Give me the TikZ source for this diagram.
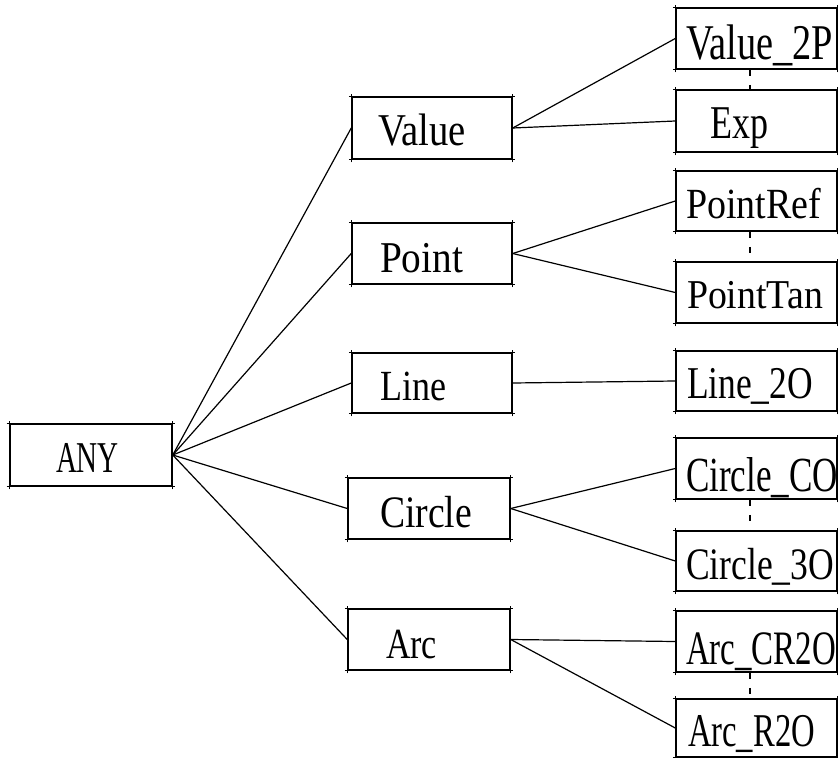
\documentclass[tikz,border=0pt]{standalone}
\usepackage{fontspec}
\usepackage{graphicx}
\setmainfont{Liberation Serif}

% label text: font size (bp), printed width (bp), text
\newcommand{\boxlabel}[3]{\resizebox{#2bp}{\height}{\fontsize{#1bp}{#1bp}\selectfont #3}}

\begin{document}
\begin{tikzpicture}[x=1bp,y=-1bp,
  box/.style={draw, line width=1.5bp, rectangle, inner sep=0pt, minimum width=160bp},
  txt/.style={anchor=base west, inner sep=0pt, outer sep=0pt},
  link/.style={line width=1.2bp},
  pairdash/.style={line width=1.2bp, dash pattern=on 6bp off 9bp}]
\useasboundingbox (0,0) rectangle (838,758);

% root
\node[box, minimum width=162bp, minimum height=62bp] (any) at (91,455) {};

% second level
\node[box, minimum height=62bp] (value)  at (432,128)   {};
\node[box, minimum height=61bp] (point)  at (432,253.5) {};
\node[box, minimum height=60bp] (line)   at (432,383)   {};
\node[box, minimum width=162bp, minimum height=61bp] (circle) at (429,508.5) {};
\node[box, minimum width=162bp, minimum height=61bp] (arc)    at (429,639.5) {};

% leaves
\node[box, minimum width=161bp, minimum height=61bp] (v2p)  at (756.5,38.5)  {};
\node[box, minimum width=161bp, minimum height=62bp] (exp)  at (756.5,121)   {};
\node[box, minimum width=161bp, minimum height=60bp] (pref) at (756.5,201)   {};
\node[box, minimum width=161bp, minimum height=61bp] (ptan) at (756.5,292.5) {};
\node[box, minimum width=161bp, minimum height=60bp] (l2o)  at (756.5,381)   {};
\node[box, minimum width=161bp, minimum height=61bp] (cco)  at (756.5,468.5) {};
\node[box, minimum width=161bp, minimum height=60bp] (c3o)  at (756.5,561)   {};
\node[box, minimum width=161bp, minimum height=61bp] (acr)  at (756.5,641.5) {};
\node[box, minimum width=161bp, minimum height=58bp] (ar2o) at (756.5,728)   {};

% corner ticks on every box
\foreach \n in {any,value,point,line,circle,arc,v2p,exp,pref,ptan,l2o,cco,c3o,acr,ar2o}{
  \foreach \c in {north west,north east,south west,south east}{
    \draw[line width=1.2bp] ([xshift=-2.5bp]\n.\c) -- ([xshift=2.5bp]\n.\c);
    \draw[line width=1.2bp] ([yshift=-2.5bp]\n.\c) -- ([yshift=2.5bp]\n.\c);
  }
}

% labels
\node[txt] (t-any)    at (56,472)  {\boxlabel{44}{63}{ANY}};
\node[txt] (t-value)  at (378,145) {\boxlabel{45.5}{88}{Value}};
\node[txt] (t-point)  at (380,272) {\boxlabel{44}{83}{Point}};
\node[txt] (t-line)   at (380,400) {\boxlabel{43}{66}{Line}};
\node[txt] (t-circle) at (380,527) {\boxlabel{45}{92}{Circle}};
\node[txt] (t-arc)    at (386,658) {\boxlabel{43}{51}{Arc}};

\node[txt] (t-v2p)  at (686,60)  {\boxlabel{50}{147}{Value\_2P}};
\node[txt] (t-exp)  at (710,138) {\boxlabel{47}{58}{Exp}};
\node[txt] (t-pref) at (686,218) {\boxlabel{43}{135}{PointRef}};
\node[txt] (t-ptan) at (687,308) {\boxlabel{41}{136}{PointTan}};
\node[txt] (t-l2o)  at (687,398) {\boxlabel{45.5}{126}{Line\_2O}};
\node[txt] (t-cco)  at (686,491) {\boxlabel{49}{152}{Circle\_CO}};
\node[txt] (t-c3o)  at (686,579) {\boxlabel{45}{148}{Circle\_3O}};
\node[txt] (t-acr)  at (686,664) {\boxlabel{48}{150}{Arc\_CR2O}};
\node[txt] (t-ar2o) at (688,746) {\boxlabel{47}{127}{Arc\_R2O}};

% root to second level
\foreach \m in {value,point,line,circle,arc}
  \draw[link] (any.east) -- (\m.west);

% second level to leaves
\draw[link] (value.east) -- (v2p.west);
\draw[link] (value.east) -- (exp.west);
\draw[link] (point.east) -- (pref.west);
\draw[link] (point.east) -- (ptan.west);
\draw[link] (line.east) -- (l2o.west);
\draw[link] (circle.east) -- (cco.west);
\draw[link] (circle.east) -- (c3o.west);
\draw[link] (arc.east) -- (acr.west);
\draw[link] (arc.east) -- (ar2o.west);

% dashed ties between paired leaves
\coordinate (dx) at (750,0);
\draw[pairdash] (v2p.south -| dx)  -- (exp.north -| dx);
\draw[pairdash] (pref.south -| dx) -- (ptan.north -| dx);
\draw[pairdash] (cco.south -| dx)  -- (c3o.north -| dx);
\draw[pairdash] (acr.south -| dx)  -- (ar2o.north -| dx);
\end{tikzpicture}
\end{document}
